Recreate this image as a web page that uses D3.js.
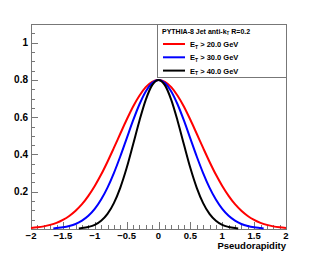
<!DOCTYPE html>
<html>
<head>
<meta charset="utf-8">
<script src="https://cdn.jsdelivr.net/npm/d3@7"></script>
<style>
  body { margin: 0; background: #fff; }
  text { font-family: "Liberation Sans", Arial, sans-serif; font-weight: bold; fill: #000; }
</style>
</head>
<body>
<div class="chart"></div>
<script>
// values
var etaRed = [-2, -1.9, -1.8, -1.7, -1.6, -1.5, -1.4, -1.3, -1.2, -1.1, -1, -0.9, -0.8, -0.7, -0.6, -0.5, -0.4, -0.3, -0.2, -0.1,
  0, 0.1, 0.2, 0.3, 0.4, 0.5, 0.6, 0.7, 0.8, 0.9, 1, 1.1, 1.2, 1.3, 1.4, 1.5, 1.6, 1.7, 1.8, 1.9, 2];
var valRed = [0.006, 0.009, 0.014, 0.022, 0.033, 0.049, 0.070, 0.098, 0.133, 0.178, 0.231, 0.292, 0.361, 0.435, 0.511, 0.586, 0.656, 0.715, 0.761, 0.790,
  0.800, 0.790, 0.761, 0.715, 0.656, 0.586, 0.511, 0.435, 0.361, 0.292, 0.231, 0.178, 0.133, 0.098, 0.070, 0.049, 0.033, 0.022, 0.014, 0.009, 0.006];

var etaBlue = [-1.65, -1.6, -1.5, -1.4, -1.3, -1.2, -1.1, -1, -0.9, -0.8, -0.7, -0.6, -0.5, -0.4, -0.3, -0.2, -0.1,
  0, 0.1, 0.2, 0.3, 0.4, 0.5, 0.6, 0.7, 0.8, 0.9, 1, 1.1, 1.2, 1.3, 1.4, 1.5, 1.6, 1.65];
var valBlue = [0.003, 0.005, 0.009, 0.016, 0.027, 0.045, 0.071, 0.108, 0.158, 0.222, 0.300, 0.389, 0.485, 0.581, 0.668, 0.738, 0.784,
  0.800, 0.784, 0.738, 0.668, 0.581, 0.485, 0.389, 0.300, 0.222, 0.158, 0.108, 0.071, 0.045, 0.027, 0.016, 0.009, 0.005, 0.003];

var etaBlack = [-1.25, -1.2, -1.1, -1, -0.9, -0.8, -0.7, -0.6, -0.5, -0.4, -0.3, -0.2, -0.1,
  0, 0.1, 0.2, 0.3, 0.4, 0.5, 0.6, 0.7, 0.8, 0.9, 1, 1.1, 1.2, 1.25];
var valBlack = [0.003, 0.005, 0.011, 0.022, 0.044, 0.081, 0.139, 0.221, 0.327, 0.452, 0.580, 0.693, 0.772,
  0.800, 0.772, 0.693, 0.580, 0.452, 0.327, 0.221, 0.139, 0.081, 0.044, 0.022, 0.011, 0.005, 0.003];

var seriesNames = ["20.0", "30.0", "40.0"];
var seriesColors = ["#ff0000", "#0000ff", "#000000"];
var legendTitle = "PYTHIA-8 Jet anti-k";

var xTicks = [-2, -1.5, -1, -0.5, 0, 0.5, 1, 1.5, 2];
var yTicks = [0.2, 0.4, 0.6, 0.8, 1];

var svgWidth = 317, svgHeight = 254;
var padLeft = 31, padRight = 286, padTop = 24, padBottom = 229;

var svg = d3.select(".chart").append("svg")
  .attr("width", svgWidth)
  .attr("height", svgHeight);

var x = d3.scaleLinear().domain([-2, 2]).range([padLeft, padRight]);
var y = d3.scaleLinear().domain([0, 1.1]).range([padBottom, padTop]);

// frame
svg.append("rect")
  .attr("x", padLeft + 0.5).attr("y", padTop + 0.5)
  .attr("width", padRight - padLeft).attr("height", padBottom - padTop)
  .attr("fill", "none").attr("stroke", "#777").attr("stroke-width", 1);

// y ticks (inside the frame)
var yMinor = d3.range(0, 1.1001, 0.05);
svg.selectAll(".ymin").data(yMinor).enter().append("line")
  .attr("x1", padLeft).attr("x2", function(d) { return padLeft + (Math.abs(d * 5 - Math.round(d * 5)) < 1e-6 ? 7 : 4); })
  .attr("y1", function(d) { return Math.round(y(d)) + 0.5; })
  .attr("y2", function(d) { return Math.round(y(d)) + 0.5; })
  .attr("stroke", "#777");

svg.selectAll(".ylab").data(yTicks).enter().append("text")
  .attr("x", padLeft - 3)
  .attr("y", function(d) { return y(d) + 3.5; })
  .attr("text-anchor", "end")
  .attr("font-size", 10)
  .text(function(d) { return d3.format("")(d); });

// x ticks (up from the bottom)
var xMinor = d3.range(-2, 2.0001, 0.1);
svg.selectAll(".xmin").data(xMinor).enter().append("line")
  .attr("x1", function(d) { return Math.round(x(d)) + 0.5; })
  .attr("x2", function(d) { return Math.round(x(d)) + 0.5; })
  .attr("y1", padBottom)
  .attr("y2", function(d) { return padBottom - (Math.abs(d * 2 - Math.round(d * 2)) < 1e-6 ? 7 : 4); })
  .attr("stroke", "#777");

svg.selectAll(".xlab").data(xTicks).enter().append("text")
  .attr("x", function(d) { return x(d); })
  .attr("y", padBottom + 9.5)
  .attr("text-anchor", "middle")
  .attr("font-size", 9.5)
  .text(function(d) { return d3.format("")(d); });

svg.append("text")
  .attr("x", padRight)
  .attr("y", 248.5)
  .attr("text-anchor", "end")
  .attr("font-size", 9.5)
  .text("Pseudorapidity");

// curves
var line = d3.line()
  .x(function(d) { return x(d[0]); })
  .y(function(d) { return y(d[1]); })
  .curve(d3.curveMonotoneX);

var curves = [
  d3.zip(etaRed, valRed),
  d3.zip(etaBlue, valBlue),
  d3.zip(etaBlack, valBlack)
];

svg.selectAll(".curve").data(curves).enter().append("path")
  .attr("d", line)
  .attr("fill", "none")
  .attr("stroke", function(d, i) { return seriesColors[i]; })
  .attr("stroke-width", 2);

// legend
var legX = 157.5, legY = padTop + 0.5, legW = padRight - 157, legH = 53;
svg.append("rect")
  .attr("x", legX).attr("y", legY)
  .attr("width", legW).attr("height", legH)
  .attr("fill", "#fff").attr("stroke", "#777");

var title = svg.append("text")
  .attr("x", 162).attr("y", 33.5)
  .attr("font-size", 7);
title.append("tspan").text(legendTitle);
title.append("tspan").attr("font-size", 4.5).attr("dy", 1.5).text("T");
title.append("tspan").attr("dy", -1.5).text(" R=0.2");

var entries = svg.selectAll(".entry").data(seriesNames).enter().append("g")
  .attr("transform", function(d, i) { return "translate(0," + (44 + i * 13.3) + ")"; });

entries.append("line")
  .attr("x1", 163).attr("x2", 185)
  .attr("y1", 0).attr("y2", 0)
  .attr("stroke", function(d, i) { return seriesColors[i]; })
  .attr("stroke-width", 2);

var lt = entries.append("text")
  .attr("x", 190).attr("y", 3)
  .attr("font-size", 7.5);
lt.append("tspan").text("E");
lt.append("tspan").attr("font-size", 5).attr("dy", 1.5).text("T");
lt.append("tspan").attr("dy", -1.5).text(function(d) { return " > " + d + " GeV"; });
</script>
</body>
</html>
